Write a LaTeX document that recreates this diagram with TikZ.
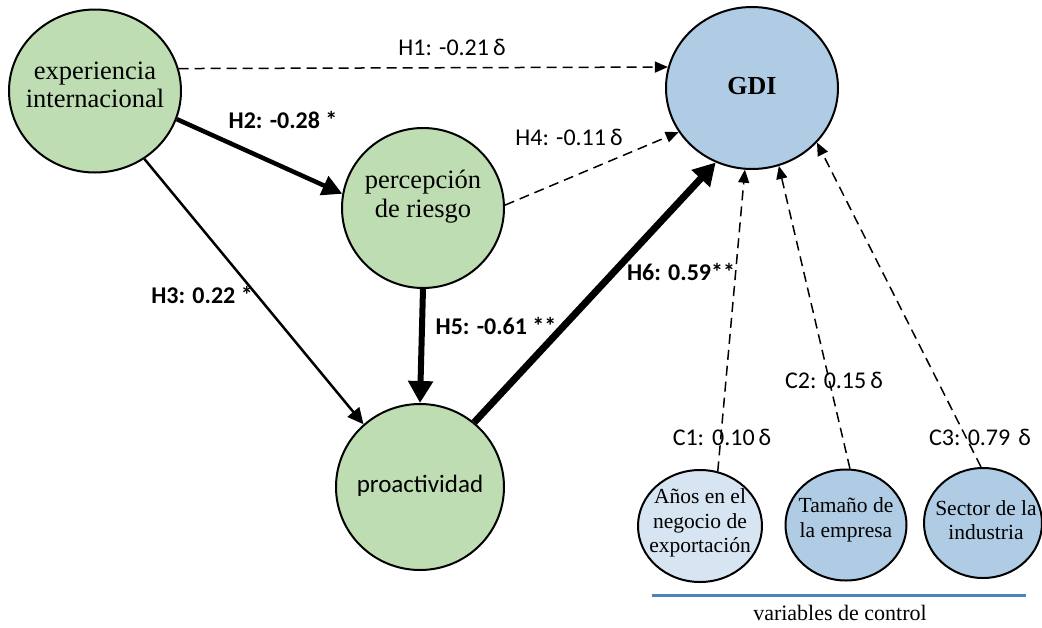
\documentclass[tikz,border=0pt]{standalone}
\usepackage{fontspec}
\setmainfont{Liberation Serif}
\newfontfamily\lab{Carlito}
\usetikzlibrary{arrows.meta,shapes.geometric,shadows}
\definecolor{gfill}{RGB}{191,221,178}
\definecolor{bfill}{RGB}{176,204,229}
\definecolor{lbfill}{RGB}{215,228,241}
\definecolor{bline}{RGB}{79,129,189}
\tikzset{
  bub/.style={ellipse,draw=black,line width=2pt,inner sep=0pt},
  gbub/.style={bub,fill=gfill},
  sbub/.style={bub,fill=bfill},
  txt/.style={inner sep=0pt,align=center},
  big/.style={txt,font=\fontsize{26.5}{28.5}\selectfont},
  small/.style={txt,font=\fontsize{21.5}{24.5}\selectfont},
  dsh/.style={line width=1.5pt,dash pattern=on 10pt off 6pt,-{Triangle[length=13pt,width=11pt]}},
  lt/.style={font=\lab\fontsize{24}{26}\selectfont,inner sep=0pt},
  lb/.style={font=\lab\bfseries\fontsize{24}{26}\selectfont,inner sep=0pt},
}
\begin{document}
\begin{tikzpicture}[x=1pt,y=-1pt]
\useasboundingbox (0,0) rectangle (1042,627);
% shapes
\node[gbub,minimum width=172pt,minimum height=163pt] (exp) at (95,91) {};
\node[gbub,minimum width=162pt,minimum height=160pt] (per) at (423,208) {};
\node[gbub,minimum width=168pt,minimum height=166pt] (pro) at (420,487) {};
\node[bub,fill=bfill,minimum width=172pt,minimum height=162pt] (gdi) at (752,88) {};
\node[sbub,fill=lbfill,minimum width=124pt,minimum height=112pt] (c1) at (700,526) {};
\node[sbub,minimum width=121pt,minimum height=111pt] (c2) at (846,525) {};
\node[sbub,minimum width=118pt,minimum height=110pt] (c3) at (983,523) {};
% texts
\node[big] (texp) at (95,85) {experiencia\\internacional};
\node[big,font=\fontsize{26.5}{29}\selectfont] (tper) at (423,197) {percepción\\de riesgo};
\node[txt,font=\lab\fontsize{25}{28}\selectfont] (tpro) at (420,486) {proactividad};
\node[txt,font=\bfseries\fontsize{26}{28}\selectfont] (tgdi) at (752,86) {GDI};
\node[small] (tc1) at (700,523) {Años en el\\negocio de\\exportación};
\node[small] (tc2) at (846,520) {Tamaño de\\la empresa};
\node[small] (tc3) at (986,520) {Sector de la\\industria};
% bottom line
\coordinate (la) at (652,595);
\coordinate (lbb) at (1026,595);
\draw[line width=3pt,bline,drop shadow={shadow xshift=1pt,shadow yshift=-2pt,opacity=0.25}] (la) -- (lbb);
\node[font=\fontsize{22}{24}\selectfont,inner sep=0pt] (vc) at (840,613) {variables de control};
% connectors
\draw[dsh] (exp.15.6) -- (gdi.166.5);
\draw[line width=4.5pt,-{Triangle[length=20pt,width=20pt]}] (exp.-19) -- (per.170);
\draw[line width=2.5pt,-{Triangle[length=16pt,width=15pt]}] (exp.-54) -- (pro.132);
\draw[dsh] (per.2) -- (gdi.211);
\draw[line width=6pt,-{Triangle[length=22pt,width=24pt]}] (per.south) -- (pro.north);
\draw[line width=7pt,-{Triangle[length=22pt,width=24pt]}] (pro.50) -- (gdi.-116);
\draw[dsh] (c1.72) -- (gdi.-95);
\draw[dsh] (c2.86) -- (gdi.-71);
\draw[dsh] (c3.92) -- (gdi.-40);
% labels
\node[lt] (l1) at (452,47) {H1: -0.21\,δ};
\node[lb] (l2) at (283,120) {H2: -0.28 *};
\node[lb] (l3) at (202,295) {H3: 0.22 *};
\node[lt] (l4) at (569,137) {H4: -0.11\,δ};
\node[lb] (l5) at (496,326) {H5: -0.61 **};
\node[lb] (l6) at (681,272) {H6: 0.59**};
\node[lt] (lc1) at (722,437) {C1:\hspace{8pt}0.10\,δ};
\node[lt] (lc2) at (834,380) {C2: 0.15\,δ};
\node[lt] (lc3) at (980,437) {C3: 0.79\hspace{8pt}δ};
\end{tikzpicture}
\end{document}
